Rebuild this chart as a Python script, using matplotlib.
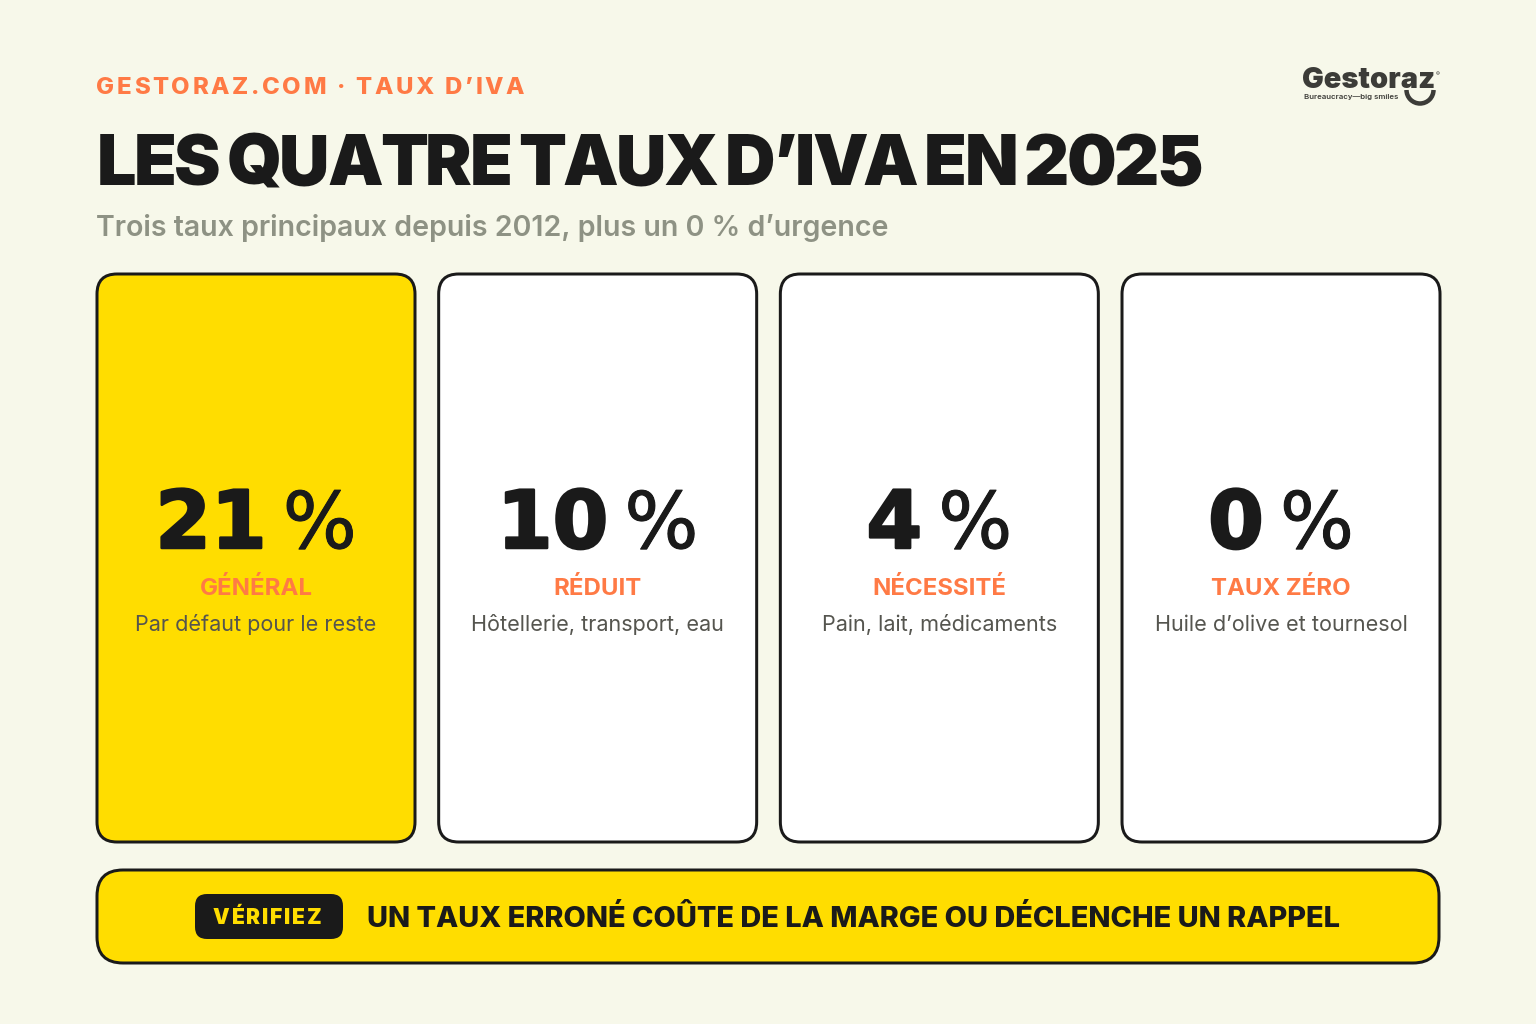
import matplotlib
matplotlib.use('Agg')
import matplotlib.pyplot as plt
import matplotlib.patheffects as pe
from matplotlib.patches import FancyBboxPatch, Arc

BG = '#F7F8EA'
INK = '#1A1A1A'
YELLOW = '#FFDD00'
ORANGE = '#FF7A45'
GREY = '#8E9284'
LOGO = '#3C3C38'

eyebrow = 'GESTORAZ.COM · TAUX D’IVA'
title = 'LES QUATRE TAUX D’IVA EN 2025'
subtitle = 'Trois taux principaux depuis 2012, plus un 0 % d’urgence'
rates = ['21', '10', '4', '0']
labels = ['GÉNÉRAL', 'RÉDUIT', 'NÉCESSITÉ', 'TAUX ZÉRO']
notes = ['Par défaut pour le reste', 'Hôtellerie, transport, eau',
         'Pain, lait, médicaments', 'Huile d’olive et tournesol']
card_fills = [YELLOW, 'white', 'white', 'white']
badge = 'VÉRIFIEZ'
banner = 'UN TAUX ERRONÉ COÛTE DE LA MARGE OU DÉCLENCHE UN RAPPEL'

FONT = 'Inter'
# Inter's kerning is not picked up by matplotlib
KERN_PAIRS = {'AT': -0.5, 'TA': -0.5, 'VA': -2.5}


def px(size):
    return size * 72 / 100


def box(ax, x, y, w, h, r, fill, edge=INK, lw=3):
    p = FancyBboxPatch((x + r, y + r), w - 2 * r, h - 2 * r,
                       boxstyle=f'round,pad={r},rounding_size={r}',
                       fc=fill, ec=edge, lw=lw * 72 / 100, mutation_aspect=1)
    ax.add_patch(p)


def text_width(fig, s, **kw):
    t = fig.text(0, 0, s, **kw)
    w = t.get_window_extent(fig.canvas.get_renderer()).width
    t.remove()
    return w


# matplotlib has no letter spacing, so place the letters one by one
def tracked(ax, fig, x, y, s, spacing, word_gap=0, kern=None, **kw):
    kern = kern or {}
    shift = 0
    for i, ch in enumerate(s):
        if i > 0:
            shift += kern.get(s[i - 1] + ch, 0)
        if ch == ' ':
            shift += word_gap
            continue
        off = text_width(fig, s[:i + 1], **kw) - text_width(fig, ch, **kw)
        ax.text(x + off + i * spacing + shift, y, ch, va='baseline', **kw)


fig = plt.figure(figsize=(15.36, 10.24), dpi=100, facecolor=BG)
ax = fig.add_axes([0, 0, 1, 1])
ax.set_xlim(0, 1536)
ax.set_ylim(1024, 0)
ax.axis('off')

tracked(ax, fig, 96, 94, eyebrow, 2.65, fontsize=px(24), fontweight='heavy',
        color=ORANGE, family=FONT)
tracked(ax, fig, 97, 185, title, -2.5, word_gap=-3.5, kern=KERN_PAIRS, fontsize=px(70),
        fontweight='black', color=INK, family=FONT)
ax.text(96, 236, subtitle, fontsize=px(28.6), fontweight='semibold', color=GREY,
        family=FONT, va='baseline')

# logo
ax.text(1302, 88, 'Gestoraz', fontsize=px(29), fontweight='black', color=LOGO,
        family=FONT, va='baseline')
ax.text(1436, 76, '®', fontsize=px(6), color=LOGO, family=FONT, va='baseline')
ax.text(1304, 99, 'Bureaucracy—big smiles', fontsize=px(7.8), fontweight='semibold',
        color=LOGO, family=FONT, va='baseline')
ax.add_patch(Arc((1420, 90), 27, 27, theta1=0, theta2=180, ec=LOGO, lw=px(4.5)))

card_w = 318
gap = 23.67
for i, rate in enumerate(rates):
    x = 97 + i * (card_w + gap)
    box(ax, x, 274, card_w, 568, 20, card_fills[i])
    cx = x + card_w / 2
    num_style = dict(fontsize=px(80), fontweight='bold', family='DejaVu Sans')
    pct_style = dict(fontsize=px(78), family='DejaVu Sans')
    w_num = text_width(fig, rate, **num_style)
    w_pct = text_width(fig, '%', **pct_style)
    left = cx - (w_num + 16 + w_pct) / 2
    ax.text(left, 548, rate, color=INK, va='baseline', **num_style,
            path_effects=[pe.withStroke(linewidth=px(2.5), foreground=INK)])
    ax.text(left + w_num + 16, 548, '%', color=INK, va='baseline', **pct_style,
            path_effects=[pe.withStroke(linewidth=px(1), foreground=INK)])
    ax.text(cx, 595, labels[i], fontsize=px(24), fontweight='bold', color=ORANGE,
            family=FONT, ha='center', va='baseline')
    ax.text(cx, 631, notes[i], fontsize=px(21.6), color='#55554F',
            family=FONT, ha='center', va='baseline')

box(ax, 97, 870, 1342, 93, 26, YELLOW)
box(ax, 195, 894, 148, 45, 12, INK, edge=INK, lw=0)
tracked(ax, fig, 213, 924.5, badge, 1.9, fontsize=px(21), fontweight='black',
        color=YELLOW, family=FONT)
ax.text(367, 927, banner, fontsize=px(28.95), fontweight='heavy', color=INK,
        family=FONT, va='baseline')

fig.savefig('out.png', dpi=100, facecolor=BG)
